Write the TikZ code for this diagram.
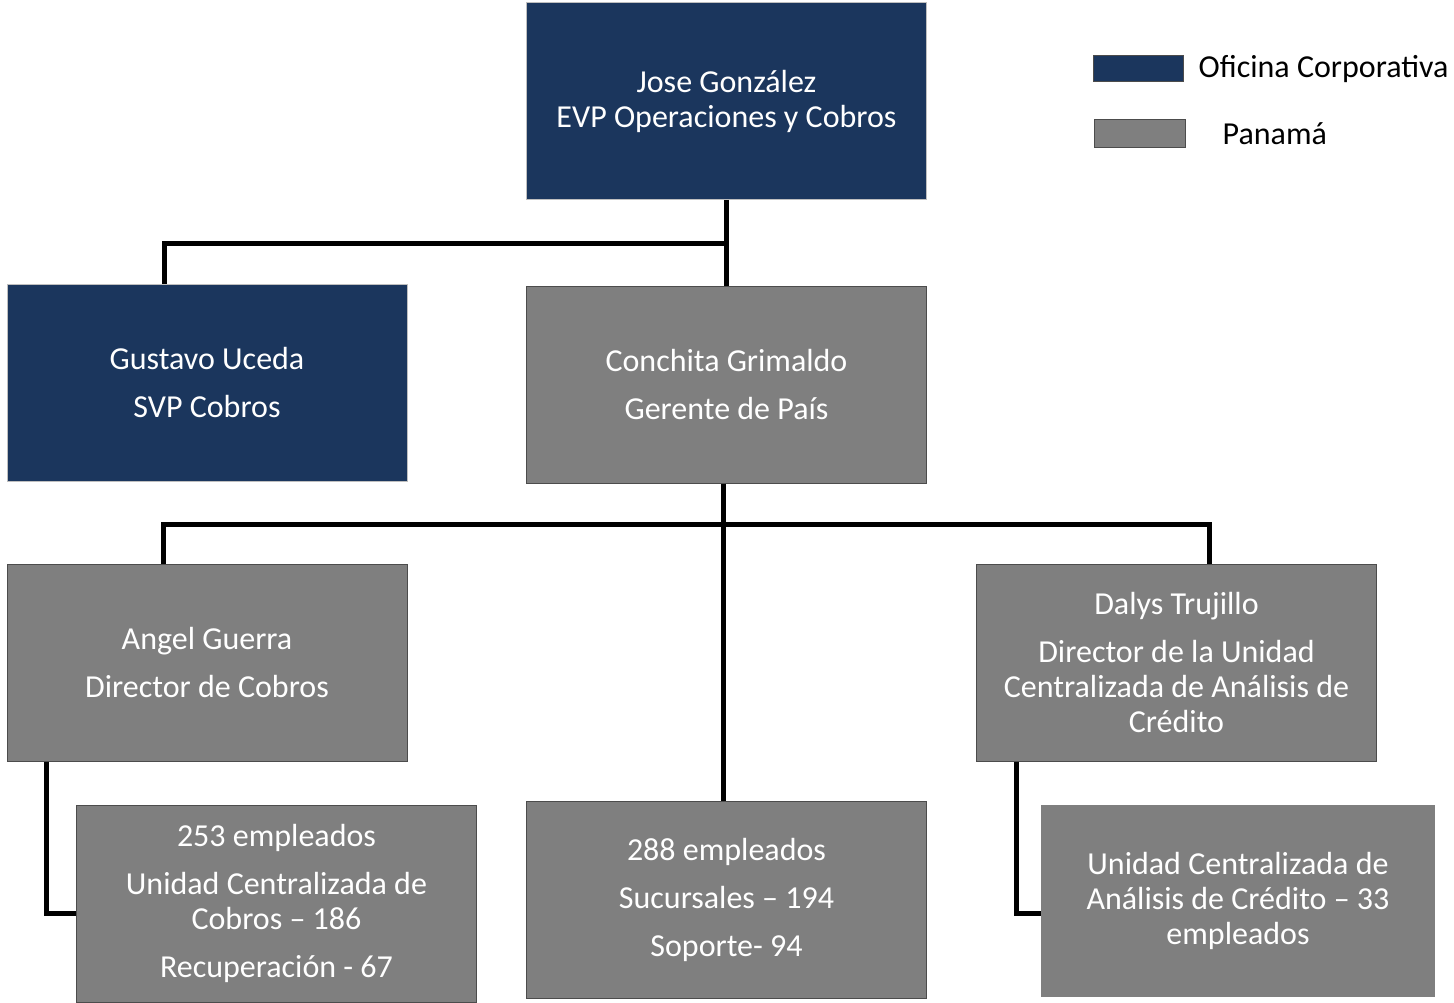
\documentclass[tikz,border=0pt]{standalone}
\usepackage{fontspec}
\setmainfont{Carlito}
\usepackage{tikz}
\usetikzlibrary{positioning}
\definecolor{Corp}{RGB}{27,54,93}
\definecolor{Pais}{RGB}{127,127,127}
\tikzset{
  orgbox/.style={draw=black!70,line width=1pt,fill=Pais,text=white,
    minimum width=400pt,minimum height=197pt,align=center,inner sep=0pt,
    font=\fontsize{32}{35}\selectfont},
  corpbox/.style={orgbox,fill=Corp,draw=black!25},
  legbox/.style={draw=black!70,line width=1pt,minimum width=90pt,minimum height=26pt,inner sep=0pt},
  legtext/.style={inner sep=0pt,font=\fontsize{32}{35}\selectfont},
  link/.style={line width=5pt},
}
\newcommand{\gap}{\\[13pt]}

\begin{document}
\begin{tikzpicture}[x=1pt,y=-1pt]
\useasboundingbox (0,0) rectangle (1454,1003);
% boxes
\node[corpbox] (jose) at (726.5,101) {Jose González\\EVP Operaciones y Cobros};
\node[corpbox] (gustavo) at (207,382.5) {Gustavo Uceda\gap SVP Cobros};
\node[orgbox] (conchita) at (726.5,384.5) {Conchita Grimaldo\gap Gerente de País};
\node[orgbox] (angel) at (207,662.5) {Angel Guerra\gap Director de Cobros};
\node[orgbox] (dalys) at (1176.5,662.5) {Dalys Trujillo\gap Director de la Unidad\\Centralizada de Análisis de\\Crédito};
\node[orgbox] (emp253) at (276.5,903.5) {253 empleados\gap Unidad Centralizada de\\Cobros – 186\gap Recuperación - 67};
\node[orgbox] (emp288) at (726.5,899.5) {288 empleados\gap Sucursales – 194\gap Soporte- 94};
\node[orgbox,draw=none,minimum width=394pt,minimum height=192pt] (unidad) at (1238,901) {Unidad Centralizada de\\Análisis de Crédito – 33\\empleados};
% legend
\node[legbox,fill=Corp] (legcorp) at (1138,69) {};
\node[legtext,right=15pt of legcorp] (corptext) {Oficina Corporativa};
\node[legbox,fill=Pais,minimum width=91pt,minimum height=28pt] (legpais) at (1139.5,134) {};
\node[legtext,right=37pt of legpais] (paistext) {Panamá};
% connectors
\coordinate (top) at (164,244);
\coordinate (mid) at (163,524);
\coordinate (midr) at (1209,524);
\draw[link] (jose.south) -- (conchita.north);
\draw[link] (jose.south |- top) -- (top) -- (top |- gustavo.north);
\draw[link] ([xshift=-3pt]conchita.south) -- ([xshift=-3pt]emp288.north);
\draw[link] (mid |- angel.north) -- (mid) -- (midr) -- (midr |- dalys.north);
\draw[link] ([xshift=40pt]angel.south west) |- ([yshift=-10pt]emp253.west);
\draw[link] ([xshift=40pt]dalys.south west) |- ([yshift=-12pt]unidad.west);
\end{tikzpicture}
\end{document}
